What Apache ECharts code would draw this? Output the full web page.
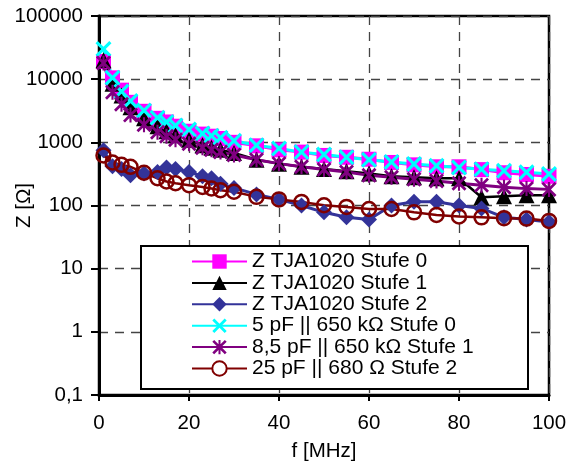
<!DOCTYPE html>
<html>
<head>
<meta charset="utf-8">
<script src="https://cdn.jsdelivr.net/npm/echarts@6/dist/echarts.min.js"></script>
<style>
html,body{margin:0;padding:0;background:#fff;}
#chart{width:574px;height:464px;}
</style>
</head>
<body>
<div id="chart"></div>
<script>
// Frequencies in MHz
const freq = [1, 3, 5, 7, 10, 13, 15, 17, 20, 23, 25, 27, 30, 35, 40, 45, 50, 55, 60, 65, 70, 75, 80, 85, 90, 95, 100];

const seriesNames = [
  'Z TJA1020 Stufe 0',
  'Z TJA1020 Stufe 1',
  'Z TJA1020 Stufe 2',
  '5 pF || 650 kΩ Stufe 0',
  '8,5 pF || 650 kΩ Stufe 1',
  '25 pF || 680 Ω Stufe 2'
];

const zStufe0 = [19000, 10500, 6700, 4300, 3100, 2400, 2100, 1800, 1500, 1350, 1250, 1150, 1000, 880, 760, 700, 620, 580, 540, 480, 440, 410, 410, 370, 330, 310, 290];
const zStufe1 = [20000, 8500, 5500, 3600, 2400, 1800, 1500, 1300, 1100, 900, 820, 760, 680, 530, 460, 410, 380, 350, 320, 290, 280, 270, 270, 135, 140, 145, 145];
const zStufe2 = [750, 420, 380, 300, 320, 340, 400, 380, 340, 290, 270, 220, 190, 150, 125, 100, 78, 65, 60, 100, 115, 115, 100, 90, 65, 60, 55];
const model0 = [30000, 10500, 6400, 4500, 3200, 2450, 2100, 1850, 1600, 1380, 1270, 1180, 1060, 900, 800, 700, 640, 580, 530, 490, 455, 425, 400, 375, 355, 335, 315];
const model1 = [18000, 6200, 4000, 2700, 1900, 1450, 1250, 1100, 950, 820, 760, 700, 630, 530, 460, 410, 370, 340, 300, 280, 260, 245, 225, 210, 195, 185, 180];
const model2 = [620, 480, 440, 410, 330, 270, 240, 225, 210, 197, 186, 175, 165, 137, 125, 114, 101, 95, 88, 88, 78, 71, 67, 65, 63, 62, 57];

const yTicks = [0.1, 1, 10, 100, 1000, 10000, 100000];
const xTicks = [0, 20, 40, 60, 80, 100];

function pairs(arr) { return freq.map((f, i) => [f, arr[i]]); }

const xPath = 'path://M0,1.4 L1.4,0 L5,3.6 L8.6,0 L10,1.4 L6.4,5 L10,8.6 L8.6,10 L5,6.4 L1.4,10 L0,8.6 L3.6,5 Z';
const starPath = 'path://M0,1.3 L1.3,0 L5,3.7 L8.7,0 L10,1.3 L6.3,5 L10,8.7 L8.7,10 L5,6.3 L1.3,10 L0,8.7 L3.7,5 Z M4.3,0 L5.7,0 L5.7,10 L4.3,10 Z';

const FONT = 'Liberation Sans, Arial, sans-serif';

const chart = echarts.init(document.getElementById('chart'), null, {renderer: 'canvas'});

const option = {
  animation: false,
  backgroundColor: '#fff',
  textStyle: {fontFamily: FONT, color: '#000'},
  grid: {left: 99, right: 25, top: 16, bottom: 69, containLabel: false, outerBoundsMode: 'none',
         show: true, borderColor: '#000', borderWidth: 2.5, backgroundColor: 'transparent'},
  xAxis: {
    type: 'value', min: xTicks[0], max: xTicks[xTicks.length - 1], interval: 20,
    name: 'f [MHz]', nameLocation: 'middle', nameGap: 46, nameMoveOverlap: false,
    nameTextStyle: {fontSize: 20.5, fontFamily: FONT, color: '#000'},
    axisLine: {show: true, lineStyle: {color: '#000', width: 3}},
    axisTick: {show: true, length: 6, lineStyle: {color: '#000', width: 2}},
    axisLabel: {fontSize: 20.5, fontFamily: FONT, color: '#000', margin: 18},
    splitLine: {show: true, lineStyle: {color: '#444', width: 1.3, type: [9, 7]}}
  },
  yAxis: {
    type: 'log', logBase: 10, min: yTicks[0], max: yTicks[yTicks.length - 1], splitNumber: 6,
    name: 'Z [Ω]', nameLocation: 'middle', nameGap: 64, nameRotate: 90, nameMoveOverlap: false,
    nameTextStyle: {fontSize: 20.5, fontFamily: FONT, color: '#000'},
    axisLine: {show: true, lineStyle: {color: '#000', width: 3}},
    axisTick: {show: true, length: 8, lineStyle: {color: '#000', width: 2}},
    axisLabel: {fontSize: 20.5, fontFamily: FONT, color: '#000', margin: 16,
      formatter: v => (v < 1 ? v.toFixed(1) : String(Math.round(v))).replace('.', ',')},
    splitLine: {show: true, lineStyle: {color: '#444', width: 1.3, type: [9, 7]}},
    minorTick: {show: false}
  },
  legend: {
    left: 191, top: 251, orient: 'vertical', padding: 0,
    itemWidth: 55, itemHeight: 18, itemGap: 0.4,
    textStyle: {fontSize: 21, fontFamily: FONT, color: '#000'},
    z: 5,
    data: seriesNames.map((n, i) => i === 5 ? {name: n, itemStyle: {color: '#fff'}} : {name: n})
  },
  graphic: [{
    type: 'rect', left: 140, top: 245, z: 4,
    shape: {width: 387, height: 143},
    style: {fill: '#fff', stroke: '#000', lineWidth: 2}
  }],
  series: [
    {name: seriesNames[0], type: 'line', data: pairs(zStufe0), symbol: 'rect', symbolSize: 15,
     itemStyle: {color: '#FF00FF'}, lineStyle: {color: '#FF00FF', width: 3}},
    {name: seriesNames[1], type: 'line', data: pairs(zStufe1), symbol: 'triangle', symbolSize: 16,
     itemStyle: {color: '#000000'}, lineStyle: {color: '#000000', width: 2.5}},
    {name: seriesNames[2], type: 'line', data: pairs(zStufe2), symbol: 'diamond', symbolSize: 16,
     itemStyle: {color: '#333399'}, lineStyle: {color: '#333399', width: 3}},
    {name: seriesNames[3], type: 'line', data: pairs(model0), symbol: xPath, symbolSize: 16,
     itemStyle: {color: '#00FFFF'}, lineStyle: {color: '#00FFFF', width: 3}},
    {name: seriesNames[4], type: 'line', data: pairs(model1), symbol: starPath, symbolSize: 15,
     itemStyle: {color: '#800080'}, lineStyle: {color: '#800080', width: 3}},
    {name: seriesNames[5], type: 'line', data: pairs(model2), symbol: 'circle', symbolSize: 14,
     itemStyle: {color: 'rgba(255,255,255,0)', borderColor: '#800000', borderWidth: 2.5},
     lineStyle: {color: '#800000', width: 2.5}}
  ]
};
chart.setOption(option);
</script>
</body>
</html>
